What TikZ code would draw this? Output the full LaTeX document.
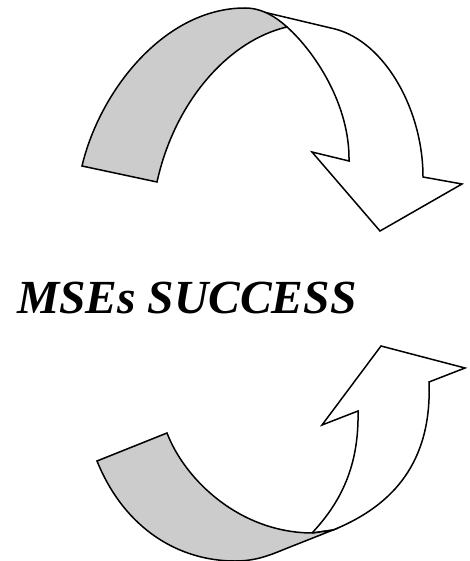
\documentclass[tikz,border=0pt]{standalone}
\usepackage{fontspec}
\setmainfont{Liberation Serif}
\begin{document}
\begin{tikzpicture}[x=1pt,y=-1pt,
  band/.style={draw=black,line width=1.5pt,line join=miter,fill=black!20},
  whiteband/.style={draw=black,line width=1.5pt,line join=miter,fill=white},
  title/.style={font=\fontsize{47.5}{50}\selectfont\bfseries\itshape,inner sep=0pt,anchor=base west}]
\useasboundingbox (0,0) rectangle (469,561);
% ---------- top arrow ----------
\draw[whiteband] (287,27) .. controls (315,52) and (350,105) .. (349,161)
  -- (312,152) -- (380,231) -- (462,184) -- (423,177)
  .. controls (423,110) and (385,42) .. (335,29)
  -- (255,10) -- cycle;
\draw[band] (82,166) .. controls (100,90) and (165,8) .. (245,8)
  .. controls (262,8) and (276,17) .. (287,27)
  .. controls (230,40) and (175,100) .. (157,182) -- cycle;
% ---------- title ----------
\node[title] (t) at (17,313) {MSEs SUCCESS};
% ---------- bottom arrow ----------
\draw[whiteband] (312,533) .. controls (345,498) and (359,460) .. (358,411)
  -- (322,425) -- (381,346) -- (465,368) -- (429,382)
  .. controls (432,460) and (395,505) .. (333,530) -- cycle;
\draw[band] (97,461) .. controls (125,530) and (180,561) .. (235,561)
  .. controls (255,561) and (268,556) .. (285,549) -- (333,530) -- (313,533)
  .. controls (240,533) and (185,480) .. (167,433) -- cycle;
\end{tikzpicture}
\end{document}
